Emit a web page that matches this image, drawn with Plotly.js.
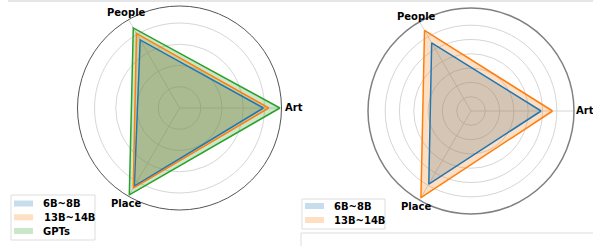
<!DOCTYPE html>
<html>
<head>
<meta charset="utf-8">
<script src="https://cdn.plot.ly/plotly-3.0.1.min.js"></script>
<style>html,body{margin:0;padding:0;background:#fff;}#chart{width:593px;height:246px;}</style>
</head>
<body>
<div id="chart"></div>
<script>
// ---- data ----
const categories = ['Art', 'People', 'Place'];
const leftSeriesNames = ['6B~8B', '13B~14B', 'GPTs'];
const left6B = [0.79, 0.74, 0.85];
const left13B = [0.84, 0.81, 0.87];
const leftGPT = [0.945, 0.87, 0.945];
const rightSeriesNames = ['6B~8B', '13B~14B'];
const right6B = [0.49, 0.55, 0.59];
const right13B = [0.57, 0.65, 0.70];
const leftRings = [0.2, 0.4, 0.6, 0.8];
const rightRings = [0.1, 0.2, 0.3, 0.4, 0.5, 0.6];

// ---- styling ----
const colors = ['#1f77b4', '#ff7f0e', '#2ca02c'];
const fills = ['rgba(31,119,180,0.25)', 'rgba(255,127,14,0.25)', 'rgba(44,160,44,0.25)'];
const W = 593, H = 246;
const px = x => x / W;
const py = y => 1 - y / H;
const close = a => a.concat([a[0]]);
const theta = close(categories);

function fillTrace(r, i, sub) {
  return {
    type: 'scatterpolar', subplot: sub, r: close(r), theta: theta,
    mode: 'lines', fill: 'toself', fillcolor: fills[i],
    line: {color: fills[i], width: 0}, showlegend: false, hoverinfo: 'skip'
  };
}
function lineTrace(r, i, sub) {
  return {
    type: 'scatterpolar', subplot: sub, r: close(r), theta: theta,
    mode: 'lines', line: {color: colors[i], width: 1.5}, showlegend: false, hoverinfo: 'skip'
  };
}

const data = [
  fillTrace(left6B, 0, 'polar'), fillTrace(left13B, 1, 'polar'), fillTrace(leftGPT, 2, 'polar'),
  lineTrace(left6B, 0, 'polar'), lineTrace(left13B, 1, 'polar'), lineTrace(leftGPT, 2, 'polar'),
  fillTrace(right6B, 0, 'polar2'), fillTrace(right13B, 1, 'polar2'),
  lineTrace(right6B, 0, 'polar2'), lineTrace(right13B, 1, 'polar2')
];

const font = {family: 'DejaVu Sans', size: 10, color: '#000', weight: 'bold'};

function polar(domX, domY, rmax, rings, lw, lc) {
  return {
    domain: {x: domX, y: domY},
    bgcolor: '#fff',
    radialaxis: {range: [0, rmax], tickvals: rings, showticklabels: false, ticks: '',
      showline: false, gridcolor: '#d6d6d6', gridwidth: 1},
    angularaxis: {rotation: 0, direction: 'counterclockwise', categoryarray: categories,
      type: 'category', showline: true, linecolor: lc, linewidth: lw, ticks: '',
      showticklabels: false, gridcolor: '#d6d6d6'}
  };
}

const shapes = [
  {type: 'line', xref: 'paper', yref: 'paper', x0: px(8), x1: 1, y0: py(1), y1: py(1),
   line: {color: '#cccccc', width: 1}},
  {type: 'rect', xref: 'paper', yref: 'paper', x0: px(301), x1: px(600), y0: py(233), y1: py(260),
   line: {color: '#dddddd', width: 1}},
  {type: 'rect', xref: 'paper', yref: 'paper', x0: px(11), x1: px(95), y0: py(195), y1: py(240),
   line: {color: '#dddddd', width: 1}, fillcolor: 'rgba(255,255,255,0.8)'},
  {type: 'rect', xref: 'paper', yref: 'paper', x0: px(302), x1: px(385), y0: py(199), y1: py(229),
   line: {color: '#dddddd', width: 1}, fillcolor: 'rgba(255,255,255,0.8)'}
];
const annotations = [];

// category labels around each radar
const leftLabelPos = [[283, 108, 'left'], [126, 12.7, 'center'], [126, 203, 'center']];
const rightLabelPos = [[574, 111, 'left'], [416, 16, 'center'], [416, 206.5, 'center']];
categories.forEach((c, i) => {
  [leftLabelPos, rightLabelPos].forEach(pos => {
    annotations.push({xref: 'paper', yref: 'paper', x: px(pos[i][0]), y: py(pos[i][1]), text: c,
      showarrow: false, xanchor: pos[i][2], yanchor: 'middle', font: font});
  });
});

const leftRowsY = [203.5, 217.3, 231];
leftSeriesNames.forEach((n, i) => {
  shapes.push({type: 'rect', xref: 'paper', yref: 'paper', x0: px(14), x1: px(33),
    y0: py(leftRowsY[i] - 3), y1: py(leftRowsY[i] + 3), line: {width: 0}, fillcolor: fills[i]});
  annotations.push({xref: 'paper', yref: 'paper', x: px(41.5), y: py(leftRowsY[i]), text: n,
    showarrow: false, xanchor: 'left', yanchor: 'middle', font: font});
});
const rightRowsY = [206, 220];
rightSeriesNames.forEach((n, i) => {
  shapes.push({type: 'rect', xref: 'paper', yref: 'paper', x0: px(305), x1: px(324),
    y0: py(rightRowsY[i] - 3), y1: py(rightRowsY[i] + 3), line: {width: 0}, fillcolor: fills[i]});
  annotations.push({xref: 'paper', yref: 'paper', x: px(331.5), y: py(rightRowsY[i]), text: n,
    showarrow: false, xanchor: 'left', yanchor: 'middle', font: font});
});

const layout = {
  width: W, height: H, margin: {l: 0, r: 0, t: 0, b: 0},
  paper_bgcolor: '#fff', showlegend: false, font: font,
  polar: polar([px(77.5), px(281.5)], [py(210), py(6)], 0.96, leftRings, 1, '#555555'),
  polar2: polar([px(368), px(574)], [py(214), py(8)], 0.72, rightRings, 1.5, '#808080'),
  shapes: shapes, annotations: annotations
};

Plotly.newPlot('chart', data, layout, {displayModeBar: false, staticPlot: true});
</script>
</body>
</html>
